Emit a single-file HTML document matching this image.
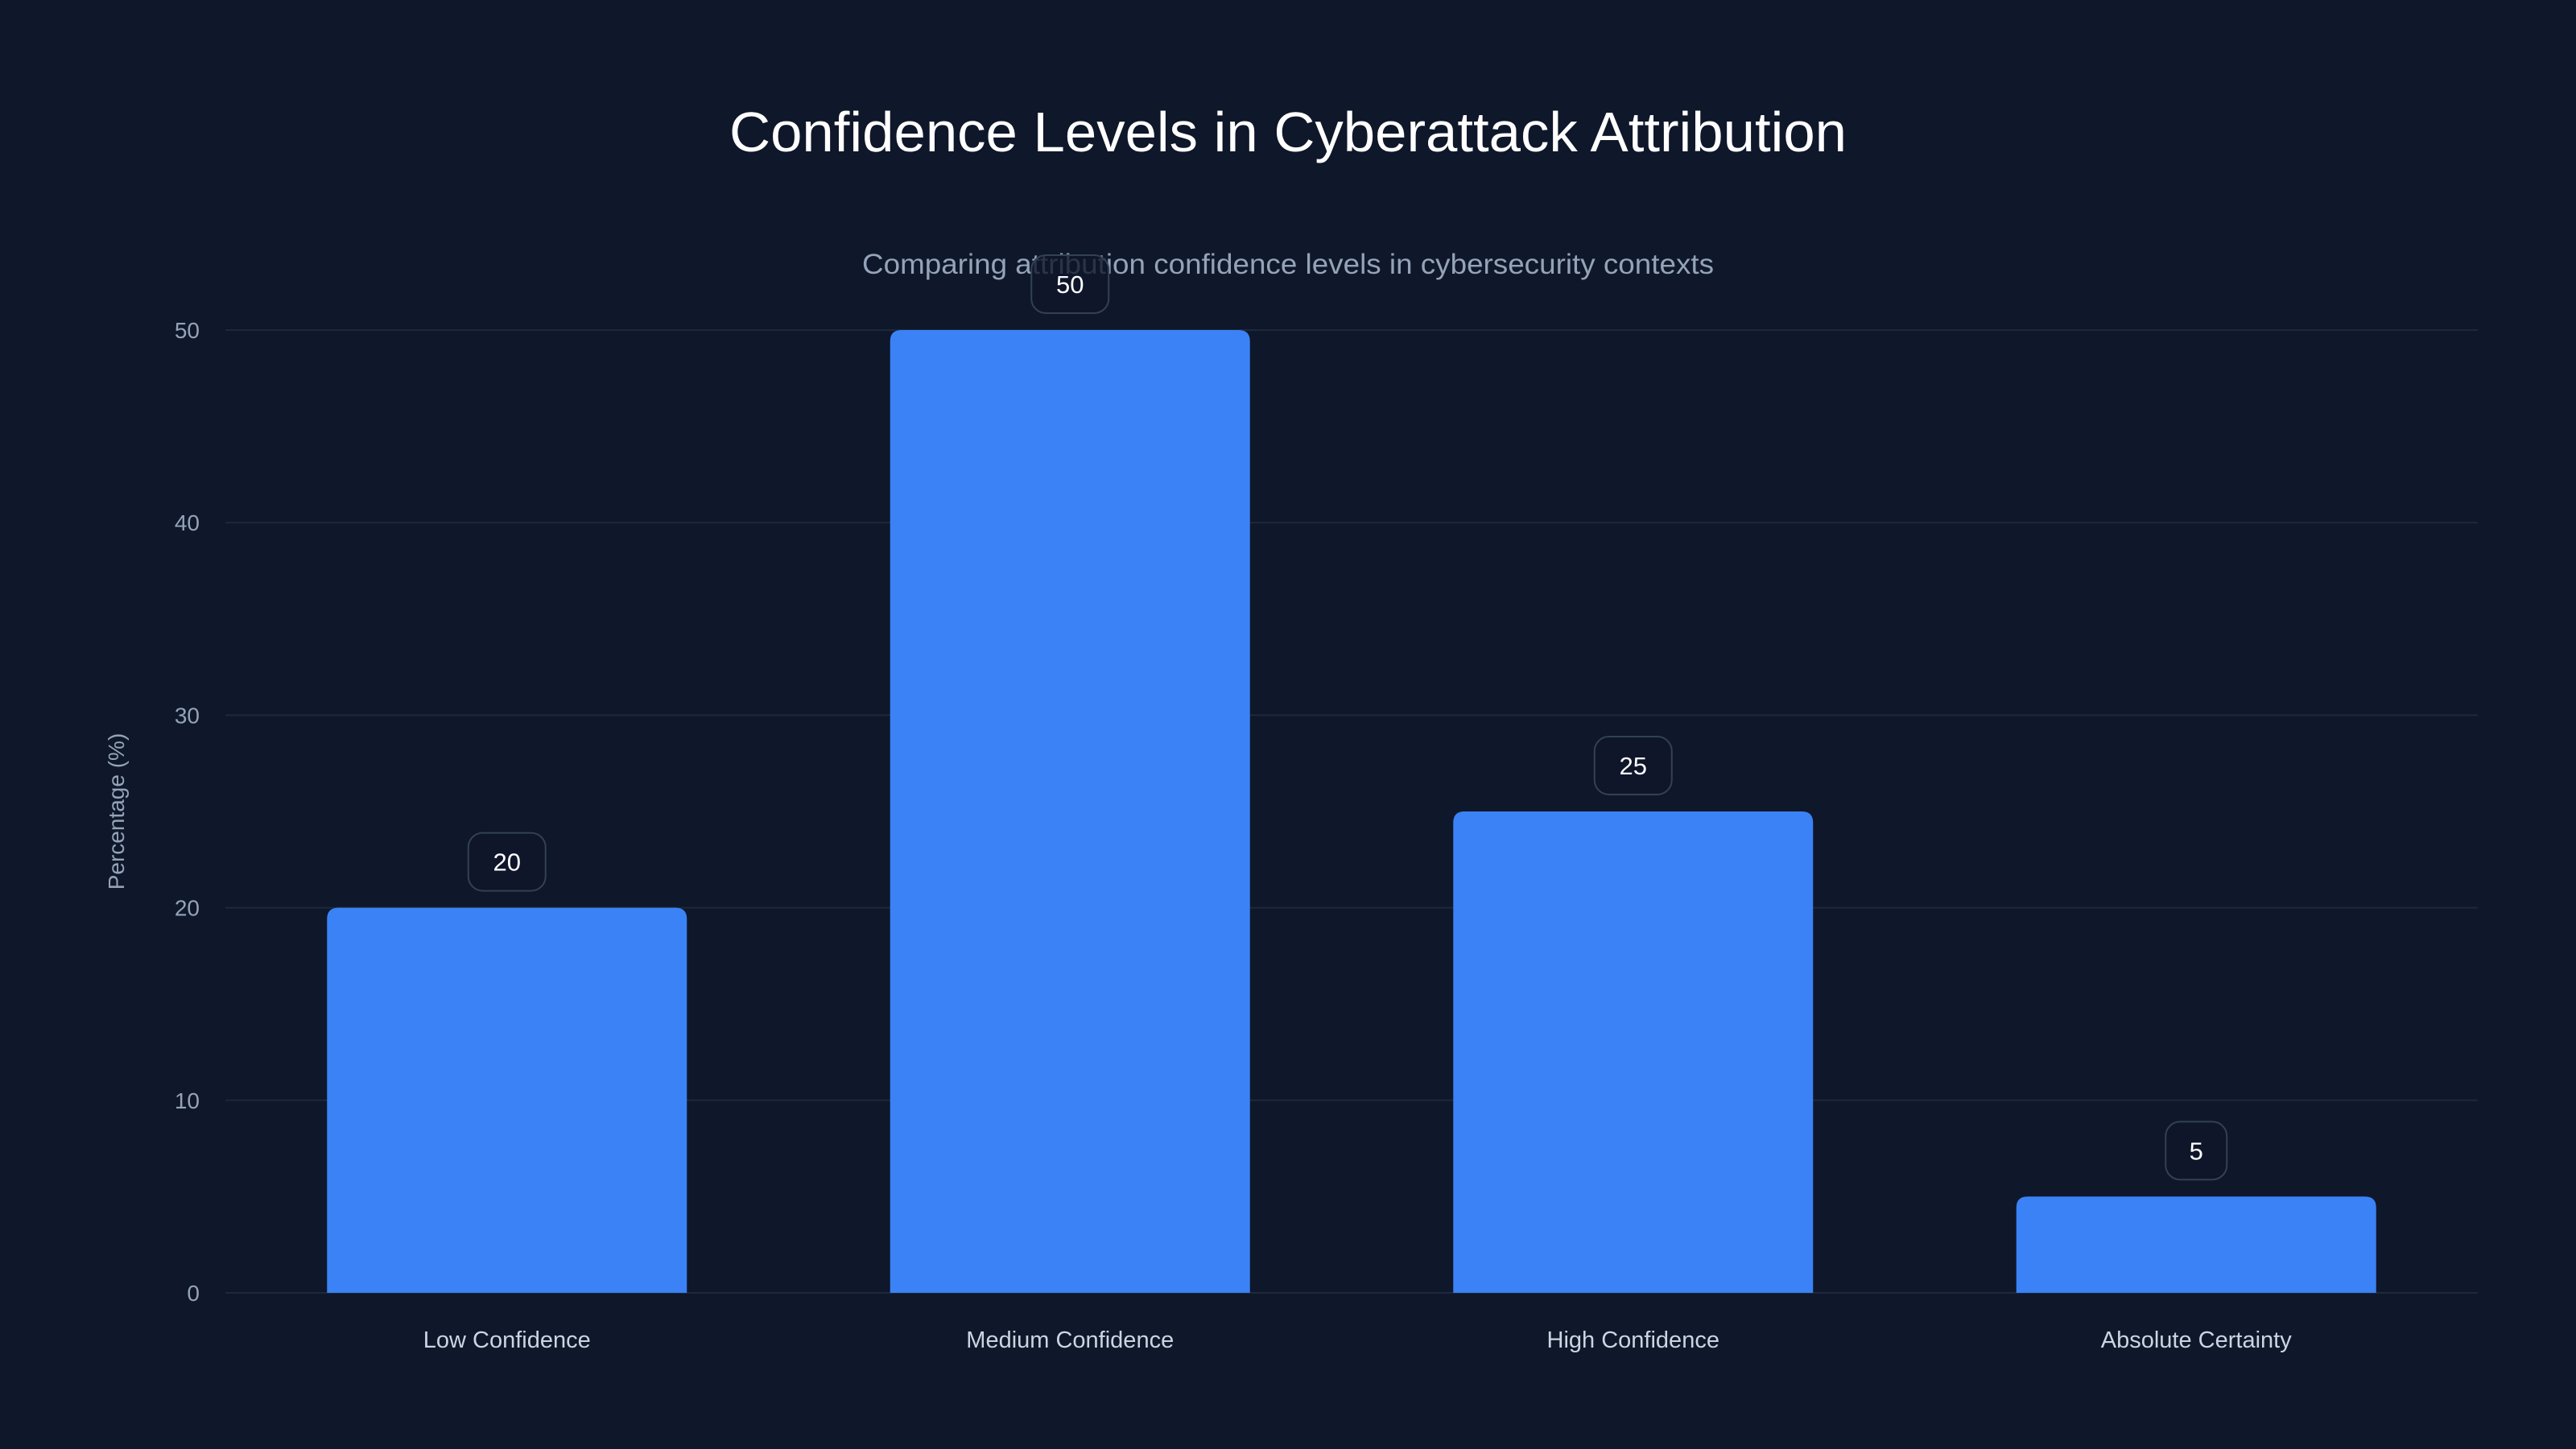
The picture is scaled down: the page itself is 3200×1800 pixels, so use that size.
<!DOCTYPE html>
<html><head><meta charset="utf-8"><style>
html,body{margin:0;padding:0;background:#0f172a;}
svg{display:block;font-family:"Liberation Sans",sans-serif;}
</style></head><body>
<svg id="chart" width="3200" height="1800" viewBox="0 0 3200 1800">
<rect width="3200" height="1800" fill="#0f172a"/>
<text x="1600" y="188" text-anchor="middle" font-size="70" fill="#ffffff" textLength="1388" lengthAdjust="spacingAndGlyphs">Confidence Levels in Cyberattack Attribution</text>
<text x="1600" y="340" text-anchor="middle" font-size="35" fill="#94a3b8" textLength="1058" lengthAdjust="spacingAndGlyphs">Comparing attribution confidence levels in cybersecurity contexts</text>
<text transform="translate(154,1008) rotate(-90)" text-anchor="middle" font-size="28" fill="#94a3b8">Percentage (%)</text>
<g id="grid"></g><g id="bars"></g><g id="labels"></g>
</svg>
<script>
const categories = ["Low Confidence","Medium Confidence","High Confidence","Absolute Certainty"];
const values = [20,50,25,5];
const yTicks = [0,10,20,30,40,50];
const ns="http://www.w3.org/2000/svg";
const x0=280,x1=3078,yBase=1606,yTop=410,yMax=50;
const band=(x1-x0)/categories.length, bw=447;
const y=v=>yBase-(v/yMax)*(yBase-yTop);
const xc=i=>x0+band*(i+0.5);
function mk(t,a,p){const e=document.createElementNS(ns,t);for(const k in a)e.setAttribute(k,a[k]);p.appendChild(e);return e;}
const grid=document.getElementById('grid'),bars=document.getElementById('bars'),labels=document.getElementById('labels');
yTicks.forEach(t=>{
  const l=mk('line',{x1:x0,x2:x1,y1:y(t),y2:y(t),stroke:'#1e293b','stroke-width':2},grid);
  
  
  const tx=mk('text',{x:248,y:y(t)+10,'text-anchor':'end','font-size':28,fill:'#94a3b8'},grid);
  tx.textContent=t;
  
  
});
categories.forEach((c,i)=>{
  const v=values[i],top=y(v),h=yBase-top,r=Math.min(14,h/2),L=xc(i)-bw/2,R=xc(i)+bw/2;
  const p=mk('path',{d:`M${L},${yBase}V${top+r}Q${L},${top} ${L+r},${top}H${R-r}Q${R},${top} ${R},${top+r}V${yBase}Z`,fill:'#3b82f6'},bars);
  
  
  const cy=top-57,bwid=String(v).length>1?96:76;
  const b=mk('rect',{x:xc(i)-bwid/2,y:cy-36,width:bwid,height:72,rx:18,fill:'#0f172a','fill-opacity':0.8,stroke:'#334155','stroke-width':2},labels);
  
  
  const vt=mk('text',{x:xc(i),y:cy+11,'text-anchor':'middle','font-size':31,fill:'#ffffff'},labels);
  vt.textContent=v;
  
  
  const ct=mk('text',{x:xc(i),y:1674,'text-anchor':'middle','font-size':29,fill:'#cbd5e1'},labels);
  ct.textContent=c;
  
  
});
</script>
</body></html>
